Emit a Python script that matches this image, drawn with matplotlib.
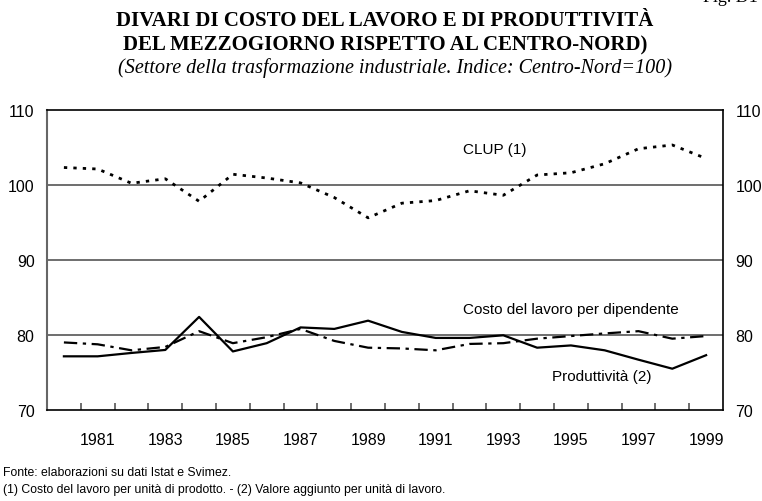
import matplotlib.pyplot as plt
from matplotlib.ticker import FixedLocator

# dati (Centro-Nord = 100)
anni = list(range(1980, 2000))
clup = [102.3, 102.1, 100.2, 100.8, 97.8, 101.4, 100.9, 100.25, 98.3, 95.6,
        97.55, 97.9, 99.2, 98.6, 101.3, 101.6, 102.8, 104.8, 105.3, 103.5]
costo_lavoro = [79.0, 78.75, 77.95, 78.4, 80.5, 78.9, 79.7, 80.8, 79.2, 78.3,
                78.2, 77.95, 78.8, 78.9, 79.5, 79.85, 80.2, 80.5, 79.5, 79.85]
produttivita = [77.15, 77.15, 77.6, 78.0, 82.4, 77.8, 78.9, 81.0, 80.8, 81.9,
                80.4, 79.6, 79.6, 79.95, 78.3, 78.6, 77.95, 76.7, 75.5, 77.3]
anni_etichette = [1981, 1983, 1985, 1987, 1989, 1991, 1993, 1995, 1997, 1999]
y_ticks = [70, 80, 90, 100, 110]

W, H = 762, 502
fig = plt.figure(figsize=(W / 100, H / 100), dpi=100)
fig.patch.set_facecolor('white')

ax = fig.add_axes([47 / W, 1 - 411 / H, (723 - 47) / W, (411 - 110.7) / H])

# griglia orizzontale
for v in [80, 90, 100]:
    ax.axhline(v, color='#555555', lw=1.2, zorder=1)

ax.plot(anni, clup, color='black', lw=2.0, linestyle=(0, (1.2, 2.2)), zorder=3)
ax.plot(anni, costo_lavoro, color='black', lw=1.6, linestyle=(0, (6, 2.5, 1.5, 2.5)), zorder=3)
ax.plot(anni, produttivita, color='black', lw=1.6, zorder=3)

ax.set_xlim(1979.5, 1999.5)
ax.set_ylim(70, 110)

ax.xaxis.set_major_locator(FixedLocator(anni_etichette))
ax.xaxis.set_minor_locator(FixedLocator([a + 0.5 for a in anni[:-1]]))
ax.set_xticklabels([str(a) for a in anni_etichette])
ax.tick_params(axis='x', which='major', length=0, pad=16, labelsize=11.5)
ax.tick_params(axis='x', which='minor', direction='in', length=5, width=1.2, color='#555555')

ax.set_yticks(y_ticks)
ax.tick_params(axis='y', length=0, pad=9, labelsize=11.5, labelleft=True, labelright=True)

for lab in ax.get_xticklabels() + ax.get_yticklabels():
    lab.set_family('Liberation Sans')

for s in ['top', 'right', 'bottom']:
    ax.spines[s].set_color('black')
    ax.spines[s].set_linewidth(1.2)
ax.spines['left'].set_color('#666666')
ax.spines['left'].set_linewidth(1.5)

ax.text(1991.8, 104.7, 'CLUP (1)', fontsize=11, family='Liberation Sans', va='center', ha='left')
ax.text(1991.8, 83.4, 'Costo del lavoro per dipendente', fontsize=11, family='Liberation Sans',
        va='center', ha='left')
ax.text(1994.45, 74.55, 'Produttività (2)', fontsize=11, family='Liberation Sans',
        va='center', ha='left')

# titoli
fig.text(385 / W, 1 - 21 / H, 'DIVARI DI COSTO DEL LAVORO E DI PRODUTTIVITÀ',
         family='Liberation Serif', weight='bold', fontsize=15, ha='center', va='center')
fig.text(385 / W, 1 - 45 / H, 'DEL MEZZOGIORNO RISPETTO AL CENTRO-NORD)',
         family='Liberation Serif', weight='bold', fontsize=15, ha='center', va='center')
fig.text(395 / W, 1 - 68 / H, '(Settore della trasformazione industriale. Indice: Centro-Nord=100)',
         family='Liberation Serif', style='italic', fontsize=14.5, ha='center', va='center')
fig.text(703 / W, 1 + 3 / H, 'Fig. D1', family='Liberation Serif', fontsize=13, ha='left', va='center')

# note
fig.text(3 / W, 1 - 473 / H, 'Fonte: elaborazioni su dati Istat e Svimez.',
         family='Liberation Sans', fontsize=8.8, ha='left', va='center')
fig.text(3 / W, 1 - 490 / H,
         '(1) Costo del lavoro per unità di prodotto. - (2) Valore aggiunto per unità di lavoro.',
         family='Liberation Sans', fontsize=8.8, ha='left', va='center')

fig.savefig('out.png', dpi=100, facecolor='white')
